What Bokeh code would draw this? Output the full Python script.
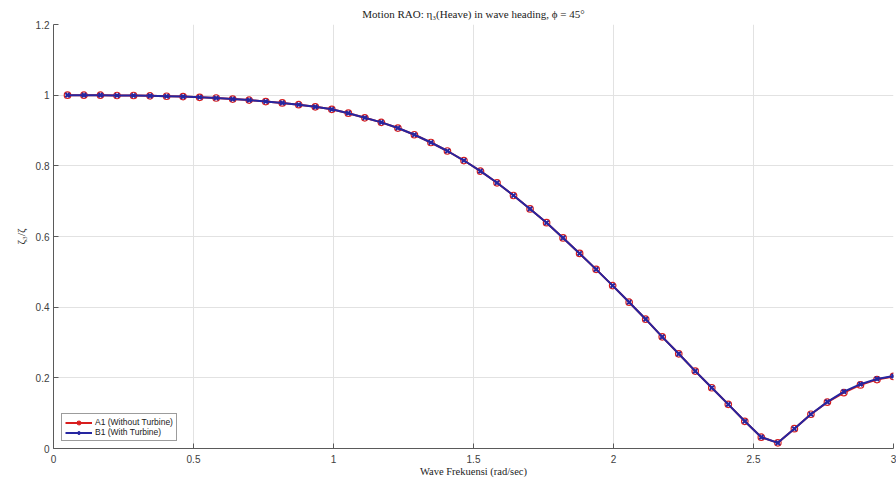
from bokeh.plotting import figure
from bokeh.models import FixedTicker, Legend, LegendItem
from bokeh.embed import file_html
from bokeh.resources import INLINE

# Wave frequency grid (rad/s)
freq = [0.050, 0.109, 0.168, 0.227, 0.286, 0.345, 0.404, 0.463, 0.522, 0.581,
        0.640, 0.699, 0.758, 0.817, 0.876, 0.935, 0.994, 1.053, 1.112, 1.171,
        1.230, 1.289, 1.348, 1.407, 1.466, 1.525, 1.584, 1.643, 1.702, 1.761,
        1.820, 1.879, 1.938, 1.997, 2.056, 2.115, 2.174, 2.233, 2.292, 2.351,
        2.410, 2.469, 2.528, 2.587, 2.646, 2.705, 2.764, 2.823, 2.882, 2.941,
        3.000]

# Heave RAO, configuration A1 (without turbine)
rao_a1 = [1.000, 1.000, 1.000, 0.999, 0.999, 0.998, 0.997, 0.996, 0.994, 0.992,
          0.989, 0.986, 0.982, 0.978, 0.973, 0.967, 0.960, 0.949, 0.936, 0.923,
          0.907, 0.888, 0.866, 0.842, 0.815, 0.785, 0.752, 0.716, 0.678, 0.639,
          0.596, 0.552, 0.507, 0.461, 0.414, 0.366, 0.316, 0.268, 0.219, 0.172,
          0.125, 0.077, 0.032, 0.016, 0.056, 0.097, 0.131, 0.158, 0.180, 0.195,
          0.204]

# Heave RAO, configuration B1 (with turbine)
rao_b1 = [1.000, 1.000, 1.000, 0.999, 0.999, 0.998, 0.997, 0.996, 0.994, 0.992,
          0.989, 0.986, 0.982, 0.978, 0.973, 0.967, 0.960, 0.949, 0.936, 0.923,
          0.907, 0.888, 0.866, 0.842, 0.815, 0.785, 0.752, 0.716, 0.678, 0.639,
          0.596, 0.552, 0.507, 0.461, 0.414, 0.366, 0.316, 0.268, 0.219, 0.172,
          0.125, 0.077, 0.032, 0.016, 0.056, 0.097, 0.132, 0.161, 0.182, 0.197,
          0.205]

x_ticks = [0, 0.5, 1, 1.5, 2, 2.5, 3]
x_tick_labels = ["0", "0.5", "1", "1.5", "2", "2.5", "3"]
y_ticks = [0, 0.2, 0.4, 0.6, 0.8, 1.0, 1.2]
y_tick_labels = ["0", "0.2", "0.4", "0.6", "0.8", "1", "1.2"]

RED = "#d81e1e"
BLUE = "#2626a0"
SERIF = "Liberation Serif"
SANS = "Liberation Sans"

p = figure(width=896, height=479, x_range=(0, 3), y_range=(0, 1.2),
           output_backend="svg", toolbar_location=None,
           min_border_left=53, min_border_right=3, min_border_top=22,
           min_border_bottom=31)

p.title.text = "Motion RAO: \u03b7\u2083(Heave) in wave heading, \u03d5 = 45\u00b0"
p.title.text_font = SERIF
p.title.text_font_size = "11px"
p.title.text_font_style = "normal"
p.title.align = "center"
p.title.text_color = "#222222"

p.outline_line_color = None
p.background_fill_color = "white"
p.border_fill_color = "white"

p.xaxis.ticker = FixedTicker(ticks=x_ticks)
p.yaxis.ticker = FixedTicker(ticks=y_ticks)
p.xaxis.major_label_overrides = dict(zip(x_ticks, x_tick_labels))
p.yaxis.major_label_overrides = dict(zip(y_ticks, y_tick_labels))

for ax in (p.xaxis, p.yaxis):
    ax.axis_line_color = "#5a5a5a"
    ax.major_tick_line_color = "#5a5a5a"
    ax.major_tick_in = 5
    ax.major_tick_out = 0
    ax.minor_tick_line_color = None
    ax.major_label_text_font = SANS
    ax.major_label_text_font_size = "10px"
    ax.major_label_text_color = "#404040"
    ax.axis_label_text_font = SERIF
    ax.axis_label_text_font_style = "normal"
    ax.axis_label_text_color = "#222222"

p.xaxis.major_label_standoff = 6
p.yaxis.major_label_standoff = 4
p.xaxis.axis_label = "Wave Frekuensi (rad/sec)"
p.xaxis.axis_label_text_font_size = "10.5px"
p.xaxis.axis_label_standoff = 0
p.yaxis.axis_label = "\u03b6\u2083/\u03b6"
p.yaxis.axis_label_text_font_size = "11px"
p.yaxis.axis_label_standoff = 6

p.xgrid.grid_line_color = "#e2e2e2"
p.ygrid.grid_line_color = "#e2e2e2"

# A1 drawn first (red, open circles), B1 on top (blue, crosses)
la = p.line(freq, rao_a1, line_color=RED, line_width=2)
sa = p.scatter(freq, rao_a1, marker="circle", size=6.5, line_color=RED,
               line_width=1.2, fill_color=None)
lb = p.line(freq, rao_b1, line_color=BLUE, line_width=2)
sb = p.scatter(freq, rao_b1, marker="x", size=6, line_color=BLUE,
               line_width=2)

legend = Legend(items=[
    LegendItem(label="A1 (Without Turbine)", renderers=[la, sa]),
    LegendItem(label="B1 (With Turbine)", renderers=[lb, sb]),
], location=(8, 7))
legend.label_text_font = SANS
legend.label_text_font_size = "8.5px"
legend.label_text_color = "#222222"
legend.label_height = 9
legend.glyph_height = 9
legend.glyph_width = 27
legend.label_standoff = 3
legend.spacing = 0
legend.padding = 3
legend.margin = 0
legend.border_line_color = "#3a3a3a"
legend.border_line_width = 1
legend.background_fill_color = "white"
legend.background_fill_alpha = 1.0
p.add_layout(legend, "center")

open("out.html", "w").write(file_html(p, INLINE))
